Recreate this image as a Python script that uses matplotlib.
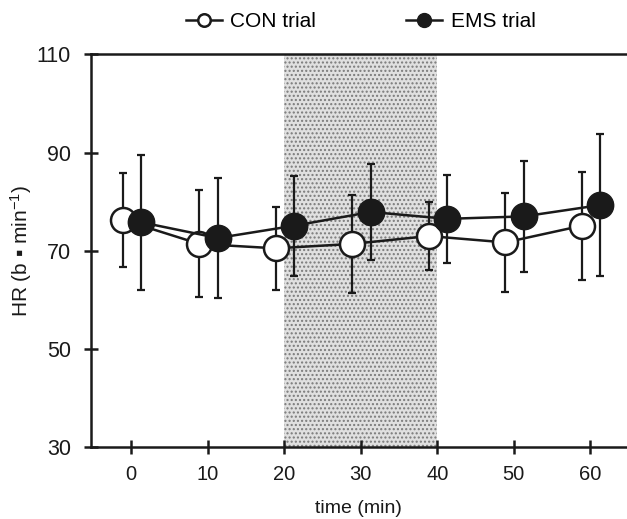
import matplotlib
matplotlib.use("Agg")
import matplotlib.pyplot as plt
import numpy as np
from matplotlib.lines import Line2D

plt.rcParams['font.family'] = ['Liberation Sans', 'DejaVu Sans']
plt.rcParams['mathtext.fontset'] = 'custom'
plt.rcParams['mathtext.rm'] = 'Liberation Sans'
plt.rcParams['mathtext.it'] = 'Liberation Sans'

time = [0, 10, 20, 30, 40, 50, 60]
con_mean = [76.3, 71.4, 70.5, 71.4, 73.0, 71.7, 75.1]
con_sd = [9.6, 10.9, 8.4, 10.0, 7.0, 10.0, 11.0]
ems_mean = [75.8, 72.6, 75.1, 77.9, 76.5, 77.0, 79.3]
ems_sd = [13.7, 12.2, 10.2, 9.8, 9.0, 11.3, 14.5]
xticks = [0, 10, 20, 30, 40, 50, 60]
yticks = [30, 50, 70, 90, 110]
shade_start, shade_end = 20, 40

con_off, ems_off = -1.1, 1.3
ink = '#1a1a1a'

fig = plt.figure(figsize=(6.27, 5.19), dpi=100)
ax = fig.add_axes([0.1447, 0.1382, 0.8553, 0.7572])

ax.axvspan(shade_start, shade_end, facecolor='#e0e0e0', edgecolor='#7a7a7a',
           hatch='....', linewidth=0, zorder=0)

t = np.array(time, dtype=float)
lw = 1.8
ax.errorbar(t + con_off, con_mean, yerr=con_sd, fmt='none', ecolor=ink,
            elinewidth=1.6, capsize=3.0, capthick=1.6, zorder=2)
ax.plot(t + con_off, con_mean, '-', color=ink, lw=lw, marker='o',
        markersize=18, markerfacecolor='white', markeredgecolor=ink,
        markeredgewidth=1.8, zorder=3)
ax.errorbar(t + ems_off, ems_mean, yerr=ems_sd, fmt='none', ecolor=ink,
            elinewidth=1.6, capsize=3.0, capthick=1.6, zorder=4)
ax.plot(t + ems_off, ems_mean, '-', color=ink, lw=lw, marker='o',
        markersize=19, markerfacecolor=ink, markeredgecolor=ink,
        zorder=5)

ax.set_xlim(-5.3, 64.8)
ax.set_ylim(30, 110)
ax.set_xticks(xticks)
ax.set_yticks(yticks)
ax.tick_params(direction='inout', length=9.5, width=1.8, colors=ink)
ax.tick_params(axis='y', pad=9.5, labelsize=15.5)
ax.tick_params(axis='x', pad=8, labelsize=14.5)
for s in ['left', 'top', 'bottom']:
    ax.spines[s].set_linewidth(1.8)
    ax.spines[s].set_color(ink)
ax.spines['right'].set_visible(False)

ax.set_xlabel('time (min)', fontsize=14, color=ink)
ax.xaxis.set_label_coords(0.5, -0.134)
ax.set_ylabel('HR (b \u25aa min$^{-1}$)', fontsize=15, color=ink)
ax.yaxis.set_label_coords(-0.106, 0.5)

h1 = Line2D([], [], color=ink, lw=lw, marker='o', markersize=9,
            markerfacecolor='white', markeredgewidth=1.8)
h2 = Line2D([], [], color=ink, lw=lw, marker='o', markersize=10,
            markerfacecolor=ink)
fig.legend([h1, h2], ['CON trial', 'EMS trial'], loc='center',
           bbox_to_anchor=(0.575, 0.958), ncol=2, frameon=False,
           fontsize=15, handlelength=1.75, handletextpad=0.4, columnspacing=4.3)

fig.savefig('out.png', dpi=100)
